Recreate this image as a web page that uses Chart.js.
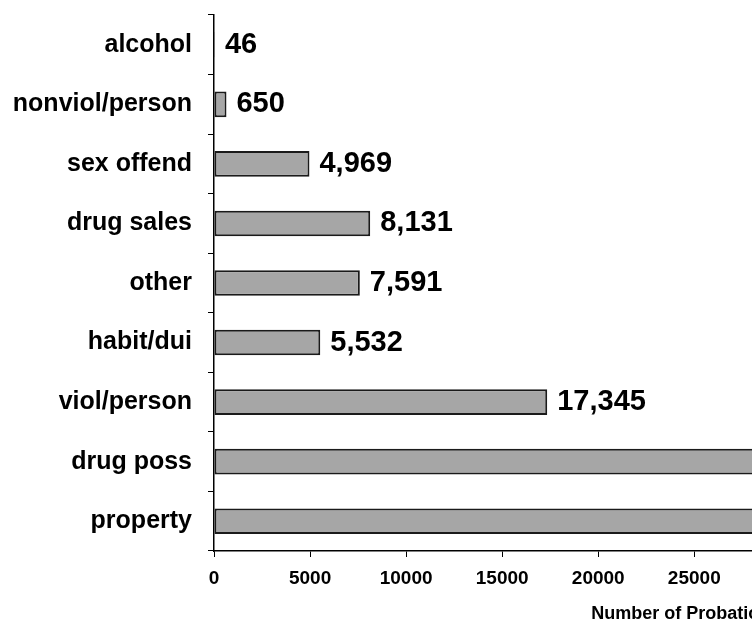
<!DOCTYPE html>
<html>
<head>
<meta charset="utf-8">
<script src="https://cdn.jsdelivr.net/npm/chart.js@4/dist/chart.umd.min.js"></script>
<style>
  body { margin: 0; overflow: hidden; background: #fff; }
</style>
</head>
<body>
<canvas id="offenseChart" width="1211" height="623"></canvas>
<script>
  // categories top to bottom
  const offenses = ['alcohol', 'nonviol/person', 'sex offend', 'drug sales', 'other',
    'habit/dui', 'viol/person', 'drug poss', 'property'];
  // last two run off the right edge of the picture, values estimated
  const probationers = [46, 650, 4969, 8131, 7591, 5532, 17345, 32000, 38000];
  const xTicks = { min: 0, max: 50000, step: 5000 };

  const font = 'Liberation Sans, Arial, sans-serif';

  // value labels to the right of each bar
  const valueLabels = {
    id: 'valueLabels',
    afterDatasetsDraw(chart) {
      const ctx = chart.ctx;
      const meta = chart.getDatasetMeta(0);
      ctx.save();
      ctx.font = 'bold 29px ' + font;
      ctx.fillStyle = '#000';
      ctx.textAlign = 'left';
      ctx.textBaseline = 'middle';
      meta.data.forEach((bar, i) => {
        ctx.fillText(probationers[i].toLocaleString('en-US'), bar.x + 10, bar.y);
      });
      ctx.restore();
    }
  };

  new Chart(document.getElementById('offenseChart'), {
    type: 'bar',
    data: {
      labels: offenses,
      datasets: [{
        data: probationers,
        backgroundColor: '#a6a6a6',
        borderColor: '#1a1a1a',
        borderWidth: 2,
        borderSkipped: false,
        categoryPercentage: 1,
        barPercentage: 0.43
      }]
    },
    options: {
      indexAxis: 'y',
      responsive: false,
      animation: false,
      layout: { padding: { top: 15, left: 0, right: 0, bottom: 0 } },
      plugins: {
        legend: { display: false },
        tooltip: { enabled: false }
      },
      scales: {
        y: {
          afterFit(scale) {
            scale.width = 214;
            scale.paddingTop = 0;
            scale.paddingBottom = 0;
          },
          grid: {
            drawOnChartArea: false,
            drawTicks: true,
            tickLength: 6,
            color: '#000',
            offset: true
          },
          border: { color: '#000', width: 1.5 },
          ticks: {
            color: '#000',
            padding: 16,
            font: { family: font, size: 25, weight: 'bold' }
          }
        },
        x: {
          min: xTicks.min,
          max: xTicks.max,
          afterFit(scale) { scale.height = 72; },
          grid: {
            drawOnChartArea: false,
            drawTicks: true,
            tickLength: 6,
            color: '#000'
          },
          border: { color: '#000', width: 1.5 },
          ticks: {
            stepSize: xTicks.step,
            color: '#000',
            padding: 10,
            maxRotation: 0,
            autoSkip: false,
            callback: v => String(v),
            font: { family: font, size: 19, weight: 'bold' }
          },
          title: {
            display: true,
            text: 'Number of Probationers',
            color: '#000',
            padding: { top: 0, bottom: 0 },
            font: { family: font, size: 18, weight: 'bold', lineHeight: 1 }
          }
        }
      }
    },
    plugins: [valueLabels]
  });
</script>
</body>
</html>
